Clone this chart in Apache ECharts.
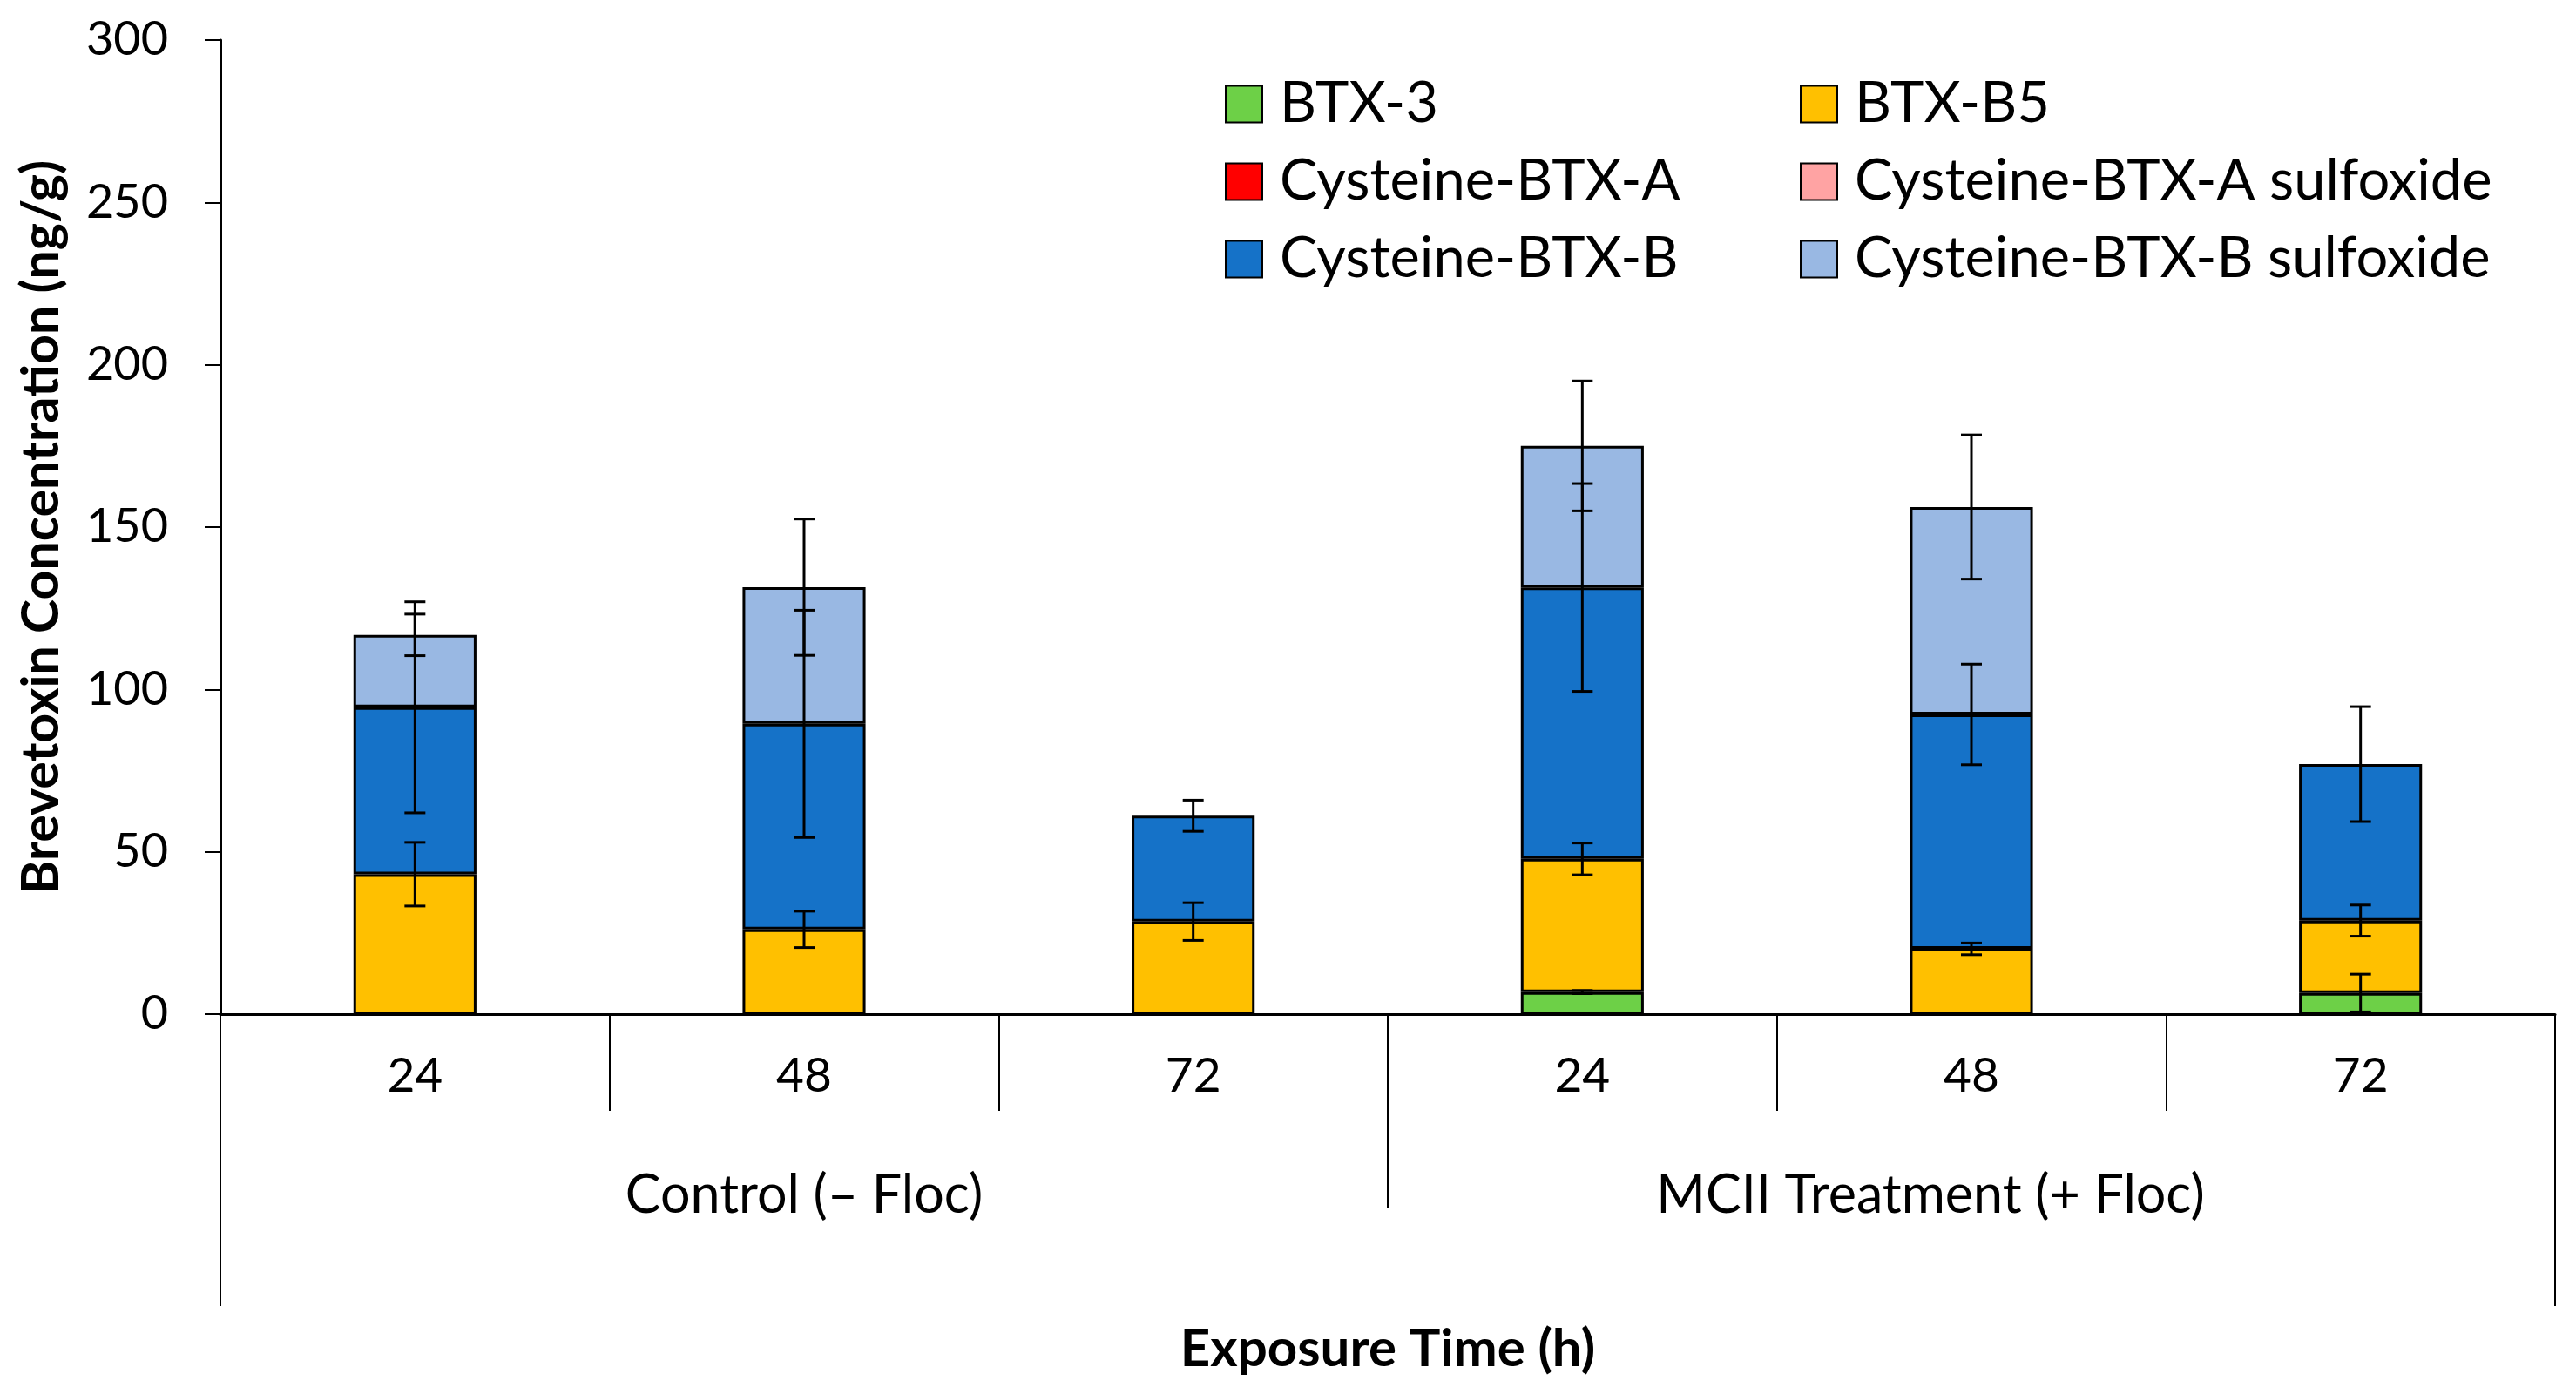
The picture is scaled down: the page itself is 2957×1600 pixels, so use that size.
<!DOCTYPE html>
<html>
<head>
<meta charset="utf-8">
<script src="https://cdn.jsdelivr.net/npm/echarts@6/dist/echarts.min.js"></script>
<style>
html,body{margin:0;padding:0;background:#fff;}
#chart{width:2957px;height:1600px;}
</style>
</head>
<body>
<div id="chart"></div>
<script>
// ---- data ----
const categories = ['24', '48', '72', '24', '48', '72'];
const groups = ['Control (– Floc)', 'MCII Treatment (+ Floc)'];
const seriesNames = ['BTX-3', 'BTX-B5', 'Cysteine-BTX-A', 'Cysteine-BTX-A sulfoxide', 'Cysteine-BTX-B', 'Cysteine-BTX-B sulfoxide'];

const btx3 = [0, 0, 0, 6.8, 0, 6.5];
const btx3Err = [0, 0, 0, 0.5, 0, 5.8];
const btxB5 = [43.1, 26.1, 28.5, 41.0, 20.1, 22.3];
const btxB5Err = [9.8, 5.6, 5.8, 4.9, 1.8, 4.8];
const cysA = [0, 0, 0, 0, 0, 0];
const cysAErr = [0, 0, 0, 0, 0, 0];
const cysASulf = [0, 0, 0, 0, 0, 0];
const cysASulfErr = [0, 0, 0, 0, 0, 0];
const cysB = [51.4, 63.3, 32.6, 83.6, 72.2, 48.2];
const cysBErr = [32.5, 35.0, 4.8, 32.0, 15.5, 17.7];
const cysBSulf = [22.3, 42.1, 0, 43.6, 63.9, 0];
const cysBSulfErr = [6.4, 21.0, 0, 20.0, 22.2, 0];

const yMin = 0, yMax = 300, yInterval = 50;

// ---- styling ----
const colors = ['#6DD047', '#FFC000', '#FF0000', '#FFA3A3', '#1572C8', '#99B8E3'];
const FONT = 'Lato';
const values = [btx3, btxB5, cysA, cysASulf, cysB, cysBSulf];
const errs = [btx3Err, btxB5Err, cysAErr, cysASulfErr, cysBErr, cysBSulfErr];

// cumulative tops for error bars
const errData = [];
const cum = categories.map(() => 0);
values.forEach((arr, s) => {
  arr.forEach((v, i) => {
    cum[i] += v;
    if (errs[s][i] > 0) errData.push([i, cum[i], errs[s][i]]);
  });
});

const barSeries = seriesNames.map((name, s) => ({
  name: name,
  type: 'bar',
  stack: 'total',
  xAxisIndex: 0,
  barWidth: '31.6%',
  // zero-height segments are left empty so they do not draw an extra border
  data: values[s].map(v => (v === 0 ? null : v)),
  itemStyle: { color: colors[s], borderColor: '#000', borderWidth: 3 },
  emphasis: { disabled: true },
  z: 2
}));

const errorSeries = {
  type: 'custom',
  xAxisIndex: 0,
  z: 10,
  silent: true,
  encode: { x: 0, y: 1 },
  data: errData,
  renderItem: function (params, api) {
    const x = api.value(0), y = api.value(1), e = api.value(2);
    const hi = api.coord([x, y + e]);
    const lo = api.coord([x, y - e]);
    const hw = 12;
    const st = { stroke: '#000', lineWidth: 3 };
    return {
      type: 'group',
      children: [
        { type: 'line', shape: { x1: hi[0], y1: hi[1], x2: lo[0], y2: lo[1] }, style: st },
        { type: 'line', shape: { x1: hi[0] - hw, y1: hi[1], x2: hi[0] + hw, y2: hi[1] }, style: st },
        { type: 'line', shape: { x1: lo[0] - hw, y1: lo[1], x2: lo[0] + hw, y2: lo[1] }, style: st }
      ]
    };
  }
};

const legendText = { fontFamily: FONT, fontSize: 65, color: '#000', lineHeight: 64, padding: [0, 0, 0, 15] };

const chart = echarts.init(document.getElementById('chart'), null, { renderer: 'canvas' });
chart.setOption({
  backgroundColor: '#fff',
  animation: false,
  textStyle: { fontFamily: FONT },
  grid: { left: 253, right: 24, top: 46, bottom: 436, containLabel: false },
  legend: [
    {
      orient: 'vertical', left: 1401, top: 82, itemWidth: 42, itemHeight: 42, itemGap: 24,
      icon: 'rect', selectedMode: false,
      data: [seriesNames[0], seriesNames[2], seriesNames[4]],
      textStyle: legendText
    },
    {
      orient: 'vertical', left: 2061, top: 82, itemWidth: 42, itemHeight: 42, itemGap: 24,
      icon: 'rect', selectedMode: false,
      data: [seriesNames[1], seriesNames[3], seriesNames[5]],
      textStyle: legendText
    }
  ],
  xAxis: [
    {
      type: 'category', position: 'bottom', data: categories,
      axisLine: { show: true, lineStyle: { color: '#000', width: 3 } },
      axisTick: { show: true, interval: 0, length: 111, lineStyle: { color: '#000', width: 2 } },
      axisLabel: { interval: 0, margin: 44, fontSize: 55, color: '#000', fontFamily: FONT },
      splitLine: { show: false }
    },
    {
      type: 'category', position: 'bottom', data: groups,
      axisLine: { show: false },
      axisTick: { show: true, interval: 0, length: 222, lineStyle: { color: '#000', width: 2 } },
      axisLabel: {
        interval: 0, margin: 178, fontSize: 61, color: '#000', fontFamily: FONT,
        formatter: function (v) { return v === groups[1] ? '{p|' + v + '}' : v; },
        rich: { p: { fontSize: 61, fontFamily: FONT, color: '#000', padding: [0, 94, 0, 0] } }
      },
      splitLine: { show: false }
    },
    {
      type: 'category', position: 'bottom', data: [''],
      axisLine: { show: false },
      axisTick: { show: true, interval: 0, length: 335, lineStyle: { color: '#000', width: 2 } },
      axisLabel: { show: false },
      name: 'Exposure Time (h)', nameLocation: 'middle', nameGap: 355,
      nameTextStyle: { fontFamily: FONT, fontSize: 60, fontWeight: 'bold', color: '#000' },
      splitLine: { show: false }
    }
  ],
  yAxis: {
    type: 'value', min: yMin, max: yMax, interval: yInterval,
    axisLine: { show: true, lineStyle: { color: '#000', width: 3 } },
    axisTick: { show: true, length: 18, lineStyle: { color: '#000', width: 2 } },
    axisLabel: { margin: 60, fontSize: 54, color: '#000', fontFamily: FONT },
    splitLine: { show: false },
    name: 'Brevetoxin Concentration (ng/g)', nameLocation: 'middle', nameGap: 176,
    nameTextStyle: { fontFamily: FONT, fontSize: 59, fontWeight: 'bold', color: '#000' }
  },
  series: barSeries.concat([errorSeries])
});
</script>
</body>
</html>
